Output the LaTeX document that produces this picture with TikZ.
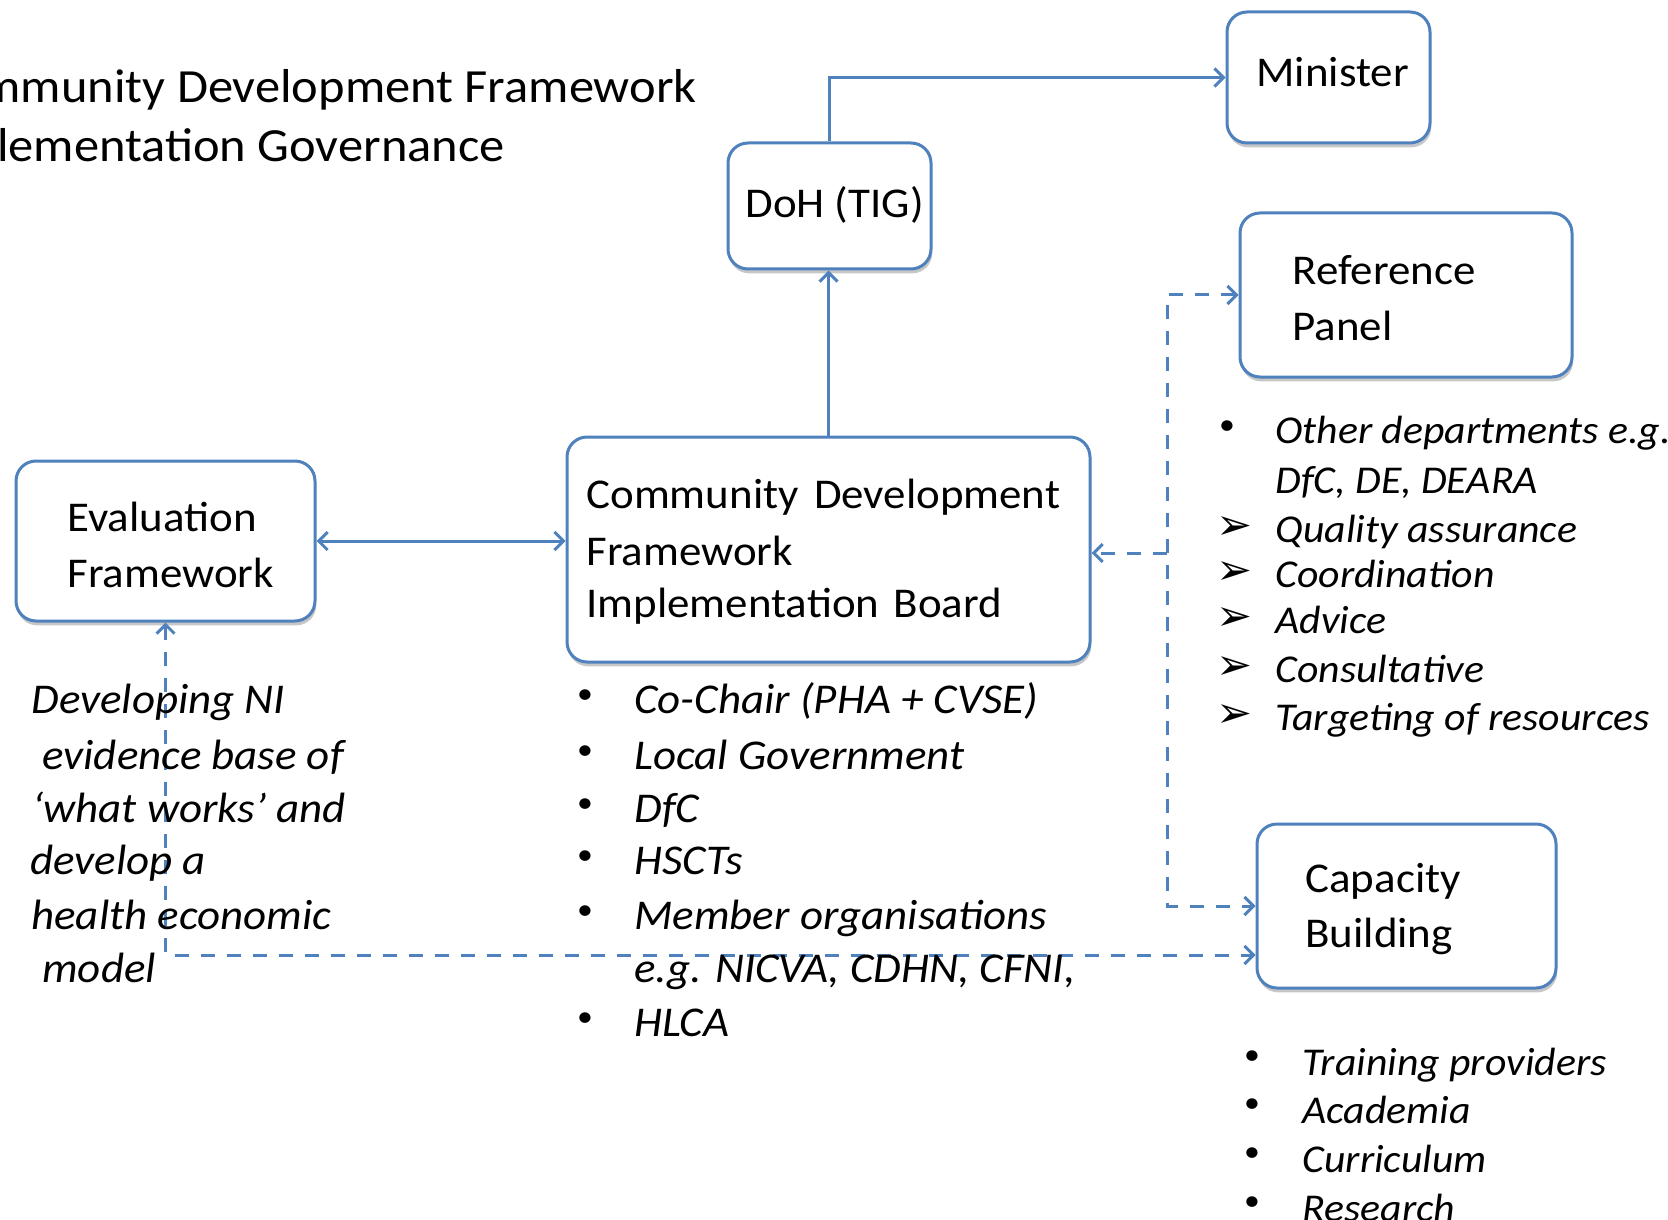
\documentclass[tikz,border=0pt]{standalone}
\usepackage{fontspec}
\setmainfont{Carlito}[FakeStretch=1.06]
\newfontfamily\symfont{DejaVu Sans}
\usetikzlibrary{arrows.meta,shadows,calc}
\definecolor{boxblue}{HTML}{4F81BD}
\begin{document}
\begin{tikzpicture}[x=0.5pt,y=-0.5pt,
  >={Straight Barb[length=4.5pt,width=9pt]},
  box/.style={draw=boxblue, line width=1.5pt, rounded corners=10pt, fill=white,
    drop shadow={shadow xshift=0.6pt, shadow yshift=-2.2pt, opacity=0.22, fill=black},
    inner sep=0pt},
  lbl/.style={inner sep=0pt, anchor=base west, font=\fontsize{21.2}{25}\selectfont},
  ttl/.style={inner sep=0pt, anchor=base east, font=\fontsize{23.8}{28}\selectfont},
  itm/.style={inner sep=0pt, anchor=base west, font=\fontsize{21.2}{25}\selectfont\itshape},
  itms/.style={inner sep=0pt, anchor=base west, font=\fontsize{19.7}{24}\selectfont\itshape},
  bul/.style={inner sep=0pt, anchor=center, font=\fontsize{15}{17}\selectfont},
  arrb/.style={inner sep=0pt, anchor=center, font=\fontsize{21.5}{24}\selectfont\symfont},
  conn/.style={draw=boxblue, line width=1.5pt},
  dconn/.style={conn, dash pattern=on 7pt off 6pt}]
\useasboundingbox (0,0) rectangle (1668,1219);
\clip (0,0) rectangle (1668,1219);

% title
\node[ttl] (title1) at (697,103) {mmunity Development Framework};
\node[ttl] (title2) at (505,162) {lementation Governance};

% boxes
\node[box, minimum width=101.5pt, minimum height=65.5pt] (min) at (1328.5,77.5) {};
\node[box, minimum width=101.5pt, minimum height=63pt] (doh) at (829.5,206) {};
\node[box, minimum width=166pt, minimum height=82pt] (rp) at (1406,295) {};
\node[box, minimum width=149.5pt, minimum height=80pt] (ev) at (165.5,541) {};
\node[box, minimum width=261.5pt, minimum height=112.5pt] (cdf) at (828.5,549.5) {};
\node[box, minimum width=149.5pt, minimum height=82pt] (cb) at (1406.5,906) {};

% box texts
\node[lbl] (minT) at (1256,87) {Minister};
\node[lbl] (dohT) at (745,218) {DoH (TIG)};
\node[lbl] (rpT1) at (1292,285) {Reference};
\node[lbl] (rpT2) at (1292,341) {Panel};
\node[lbl] (evT1) at (67,531) {Evaluation};
\node[lbl] (evT2) at (67,587) {Framework};
\node[lbl] (cdfT1) at (586,508) {Community\hspace{0.12em} Development};
\node[lbl] (cdfT2) at (586,565) {Framework};
\node[lbl] (cdfT3) at (586,617) {Implementation\hspace{0.1em} Board};
\node[lbl] (cbT1) at (1305,892) {Capacity};
\node[lbl] (cbT2) at (1305,947) {Building};

% connectors
\draw[conn,->] (cdf.north) -- (cdf.north |- doh.south);
\draw[conn,->] (doh.north) |- (min.west);
\draw[conn,<->] (ev.east) -- (ev.east -| cdf.west);
\coordinate (lowc) at (165.5,955);
\draw[dconn,<->] (ev.south) -- (lowc) -- (lowc -| cb.west);
\coordinate (rx) at (1167,553);
\draw[dconn,<->] (rp.west) -- (rp.west -| rx) -- (cb.west -| rx) -- (cb.west);
\draw[dconn,->] (rx) -- (rx -| cdf.east);

% Developing text
\node[itm] (dv1) at (31,713) {Developing NI};
\node[itm] (dv2) at (42,769) {evidence base of};
\node[itm] (dv3) at (32,822) {‘what works’ and};
\node[itm] (dv4) at (30,874) {develop a};
\node[itm] (dv5) at (31,929) {health economic};
\node[itm] (dv6) at (42,982) {model};

% CDF board list
\node[bul] (cb1) at (585,697) {•};
\node[itm] (ci1) at (634,713) {Co-Chair (PHA + CVSE)};
\node[bul] (cb2) at (585,753) {•};
\node[itm] (ci2) at (634,769) {Local Government};
\node[bul] (cb3) at (585,806) {•};
\node[itm] (ci3) at (634,822) {DfC};
\node[bul] (cb4) at (585,858) {•};
\node[itm] (ci4) at (634,874) {HSCTs};
\node[bul] (cb5) at (585,913) {•};
\node[itm] (ci5) at (634,929) {Member organisations};
\node[itm] (ci6) at (634,982) {e.g. NICVA, CDHN, CFNI,};
\node[bul] (cb7) at (585,1020) {•};
\node[itm] (ci7) at (634,1036) {HLCA};

% Reference panel list
\node[bul] (rb1) at (1227,428) {•};
\node[itms] (ri1) at (1275,443) {Other departments e.g.};
\node[itms] (ri2) at (1275,493) {DfC, DE, DEARA};
\node[arrb] (ra3) at (1234,528) {➢};
\node[itms] (ri3) at (1275,542) {Quality assurance};
\node[arrb] (ra4) at (1234,573) {➢};
\node[itms] (ri4) at (1275,587) {Coordination};
\node[arrb] (ra5) at (1234,619) {➢};
\node[itms] (ri5) at (1275,633) {Advice};
\node[arrb] (ra6) at (1234,668) {➢};
\node[itms] (ri6) at (1275,682) {Consultative};
\node[arrb] (ra7) at (1234,716) {➢};
\node[itms] (ri7) at (1275,730) {Targeting of resources};

% Capacity building list
\node[bul] (kb1) at (1252,1058) {•};
\node[itms] (ki1) at (1302,1075) {Training providers};
\node[bul] (kb2) at (1252,1106) {•};
\node[itms] (ki2) at (1302,1123) {Academia};
\node[bul] (kb3) at (1252,1155) {•};
\node[itms] (ki3) at (1302,1172) {Curriculum};
\node[bul] (kb4) at (1252,1204) {•};
\node[itms] (ki4) at (1302,1221) {Research};
\end{tikzpicture}
\end{document}
